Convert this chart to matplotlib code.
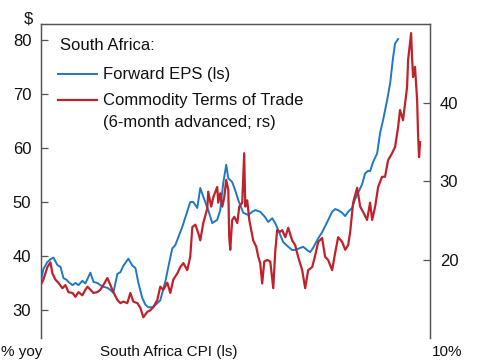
import matplotlib
matplotlib.use("Agg")
import matplotlib.pyplot as plt
from matplotlib.lines import Line2D

plt.rcParams['font.family'] = ['Liberation Sans', 'DejaVu Sans']

# Forward EPS (left scale, $)
eps_t = [1995.0, 1995.13, 1995.4, 1995.6, 1995.8, 1996.07, 1996.27, 1996.47, 1996.67, 1996.8,
         1997.07, 1997.27, 1997.47, 1997.73, 1997.93, 1998.13, 1998.27, 1998.47, 1998.73, 1998.93,
         1999.13, 1999.4, 1999.6, 1999.8, 2000.07, 2000.27, 2000.47, 2000.8, 2001.07, 2001.27,
         2001.47, 2001.73, 2001.93, 2002.13, 2002.4, 2002.6, 2002.93, 2003.27, 2003.47, 2003.73,
         2003.93, 2004.4, 2004.93, 2005.13, 2005.4, 2005.6, 2005.8, 2006.13, 2006.4, 2006.73,
         2006.93, 2007.13, 2007.33, 2007.47, 2007.73, 2007.93, 2008.13, 2008.47, 2008.8, 2009.07,
         2009.27, 2009.6, 2009.93, 2010.13, 2010.4, 2010.6, 2010.8, 2011.13, 2011.47, 2011.73,
         2011.93, 2012.27, 2012.47, 2012.73, 2012.93, 2013.13, 2013.47, 2013.73, 2014.07, 2014.4,
         2014.6, 2014.8, 2015.07, 2015.27, 2015.47, 2015.73, 2015.93, 2016.13, 2016.4, 2016.6,
         2016.8, 2016.93, 2017.13, 2017.4, 2017.6, 2017.8, 2018.07, 2018.27, 2018.47, 2018.6,
         2018.8]
eps_v = [35.8, 37.6, 38.9, 39.4, 39.7, 38.3, 38.0, 35.9, 35.6, 35.2,
         34.6, 35.0, 34.6, 35.4, 34.9, 36.1, 36.9, 35.2, 35.0, 34.6,
         34.3, 34.1, 33.7, 33.2, 36.7, 37.0, 38.2, 39.5, 38.2, 37.8,
         35.0, 32.2, 31.0, 30.5, 30.5, 30.9, 31.8, 35.3, 38.0, 41.4,
         42.0, 45.4, 50.0, 50.0, 48.9, 52.6, 51.0, 48.5, 46.1, 46.7,
         48.5, 53.5, 56.9, 54.4, 53.7, 52.2, 50.4, 48.0, 47.6, 48.2,
         48.5, 48.2, 47.2, 46.3, 47.0, 46.1, 44.8, 42.6, 41.7, 41.1,
         41.1, 41.5, 41.7, 41.1, 40.7, 41.5, 43.3, 44.4, 46.3, 48.2,
         48.7, 48.5, 48.0, 47.4, 48.2, 48.9, 50.5, 51.7, 53.3, 55.3,
         55.8, 55.7, 57.4, 59.0, 62.8, 65.2, 68.9, 72.0, 76.9, 79.4,
         80.2]

# Commodity terms of trade, 6-month advanced (right scale)
tot_t = [1995.0, 1995.13, 1995.4, 1995.6, 1995.73, 1995.93, 1996.13, 1996.4, 1996.6, 1996.8,
         1997.07, 1997.27, 1997.47, 1997.73, 1997.93, 1998.07, 1998.27, 1998.47, 1998.73, 1998.93,
         1999.13, 1999.4, 1999.6, 1999.8, 2000.07, 2000.27, 2000.47, 2000.73, 2000.93, 2001.13,
         2001.4, 2001.6, 2001.8, 2002.07, 2002.27, 2002.47, 2002.73, 2002.93, 2003.13, 2003.4,
         2003.6, 2003.8, 2004.07, 2004.27, 2004.47, 2004.73, 2004.93, 2005.07, 2005.27, 2005.47,
         2005.6, 2005.8, 2006.07, 2006.13, 2006.33, 2006.47, 2006.73, 2006.8, 2006.93, 2007.07,
         2007.2, 2007.33, 2007.47, 2007.53, 2007.6, 2007.73, 2007.87, 2008.07, 2008.2, 2008.4,
         2008.53, 2008.6, 2008.73, 2008.87, 2009.0, 2009.13, 2009.33, 2009.47, 2009.6, 2009.73,
         2009.87, 2010.07, 2010.27, 2010.47, 2010.6, 2010.73, 2010.93, 2011.07, 2011.27, 2011.47,
         2011.73, 2011.93, 2012.13, 2012.4, 2012.6, 2012.8, 2013.07, 2013.27, 2013.47, 2013.73,
         2013.93, 2014.13, 2014.4, 2014.6, 2014.8, 2015.07, 2015.27, 2015.47, 2015.6, 2015.8,
         2016.07, 2016.27, 2016.47, 2016.73, 2016.93, 2017.07, 2017.27, 2017.47, 2017.73, 2017.93,
         2018.13, 2018.4, 2018.6, 2018.8, 2018.93, 2019.13, 2019.4, 2019.47, 2019.67, 2019.73,
         2019.8, 2019.93, 2020.07, 2020.13, 2020.2, 2020.27]
tot_v = [17.0, 17.5, 19.1, 19.7, 18.3, 17.5, 17.1, 16.4, 16.8, 15.9,
         15.8, 15.3, 15.9, 15.5, 16.2, 16.6, 16.2, 15.8, 15.9, 16.2,
         16.8, 17.7, 16.8, 15.9, 14.9, 14.5, 14.7, 14.5, 15.8, 14.7,
         14.5, 13.9, 12.7, 13.4, 13.6, 14.0, 14.9, 16.6, 16.2, 17.1,
         15.8, 17.5, 18.3, 19.1, 19.6, 18.7, 20.4, 24.2, 24.5, 23.4,
         22.5, 24.7, 26.6, 28.7, 26.8, 28.0, 29.3, 27.3, 28.5, 26.8,
         28.0, 30.2, 28.9, 22.9, 21.3, 25.1, 25.5, 24.7, 26.8, 27.3,
         33.6, 26.8, 27.6, 25.1, 23.8, 22.5, 21.7, 20.4, 19.6, 17.0,
         19.8, 20.0, 19.8, 16.4, 21.0, 23.8, 23.6, 23.8, 22.9, 24.1,
         22.5, 21.9, 20.4, 18.7, 16.4, 18.7, 19.1, 20.6, 22.3, 22.8,
         20.4, 20.0, 18.7, 20.9, 22.9, 22.3, 21.3, 21.9, 23.5, 27.3,
         29.2, 26.8, 26.1, 25.1, 27.3, 25.1, 26.8, 29.3, 30.6, 30.6,
         32.7, 33.6, 34.4, 36.9, 39.1, 37.8, 42.0, 45.5, 48.9, 45.9,
         43.3, 44.6, 40.4, 36.2, 33.1, 35.0]
assert len(tot_t) == len(tot_v) and len(eps_t) == len(eps_v)

left_ticks = [30, 40, 50, 60, 70, 80]
right_ticks = [20, 30, 40]

BLUE = '#1f78c4'
RED = '#c0222c'
SPINE = '#555555'
TXT = '#111111'

fig = plt.figure(figsize=(4.85, 3.6), dpi=100)
ax = fig.add_axes([41/485, 22/360, 389/485, 314/360])
ax2 = ax.twinx()

ax.plot(eps_t, eps_v, color=BLUE, lw=1.4, zorder=3)
ax2.plot(tot_t, tot_v, color=RED, lw=1.6, zorder=3)

ax.set_xlim(1994.97, 2020.93)
ax.set_ylim(24.8, 83.0)
ax2.set_ylim(10.06, 50.06)

ax.set_yticks(left_ticks)
ax2.set_yticks(right_ticks)
ax.set_xticks([])

for a in (ax, ax2):
    for side in ('top', 'left', 'right'):
        a.spines[side].set_color(SPINE)
        a.spines[side].set_linewidth(0.9)
    a.spines['bottom'].set_visible(False)
    a.tick_params(axis='y', direction='in', length=5, width=0.9, color=SPINE,
                  labelsize=12, labelcolor=TXT, pad=7)
ax.patch.set_visible(False)

# Legend block
ax.text(0.048, 0.93, 'South Africa:', transform=ax.transAxes, fontsize=12,
        ha='left', va='center', color=TXT)
ax.add_line(Line2D([0.044, 0.144], [0.84, 0.84], transform=ax.transAxes,
                   color=BLUE, lw=1.4))
ax.text(0.16, 0.84, 'Forward EPS (ls)', transform=ax.transAxes, fontsize=12,
        ha='left', va='center', color=TXT)
ax.add_line(Line2D([0.044, 0.144], [0.757, 0.757], transform=ax.transAxes,
                   color=RED, lw=1.6))
ax.text(0.16, 0.757, 'Commodity Terms of Trade', transform=ax.transAxes, fontsize=12,
        ha='left', va='center', color=TXT)
ax.text(0.16, 0.687, '(6-month advanced; rs)', transform=ax.transAxes, fontsize=12,
        ha='left', va='center', color=TXT)

fig.text(33/485, 1 - 19/360, '$', fontsize=12, ha='right', va='center', color=TXT)

# Texts of the panel below (kept fully inside the picture)
fig.text(1/485, 1 - 359/360, '% yoy', fontsize=11, ha='left', va='bottom', color=TXT)
fig.text(100/485, 1 - 359/360, 'South Africa CPI (ls)', fontsize=11, ha='left', va='bottom', color=TXT)
fig.text(432/485, 1 - 359/360, '10%', fontsize=11, ha='left', va='bottom', color=TXT)

fig.savefig('out.png', dpi=100)
